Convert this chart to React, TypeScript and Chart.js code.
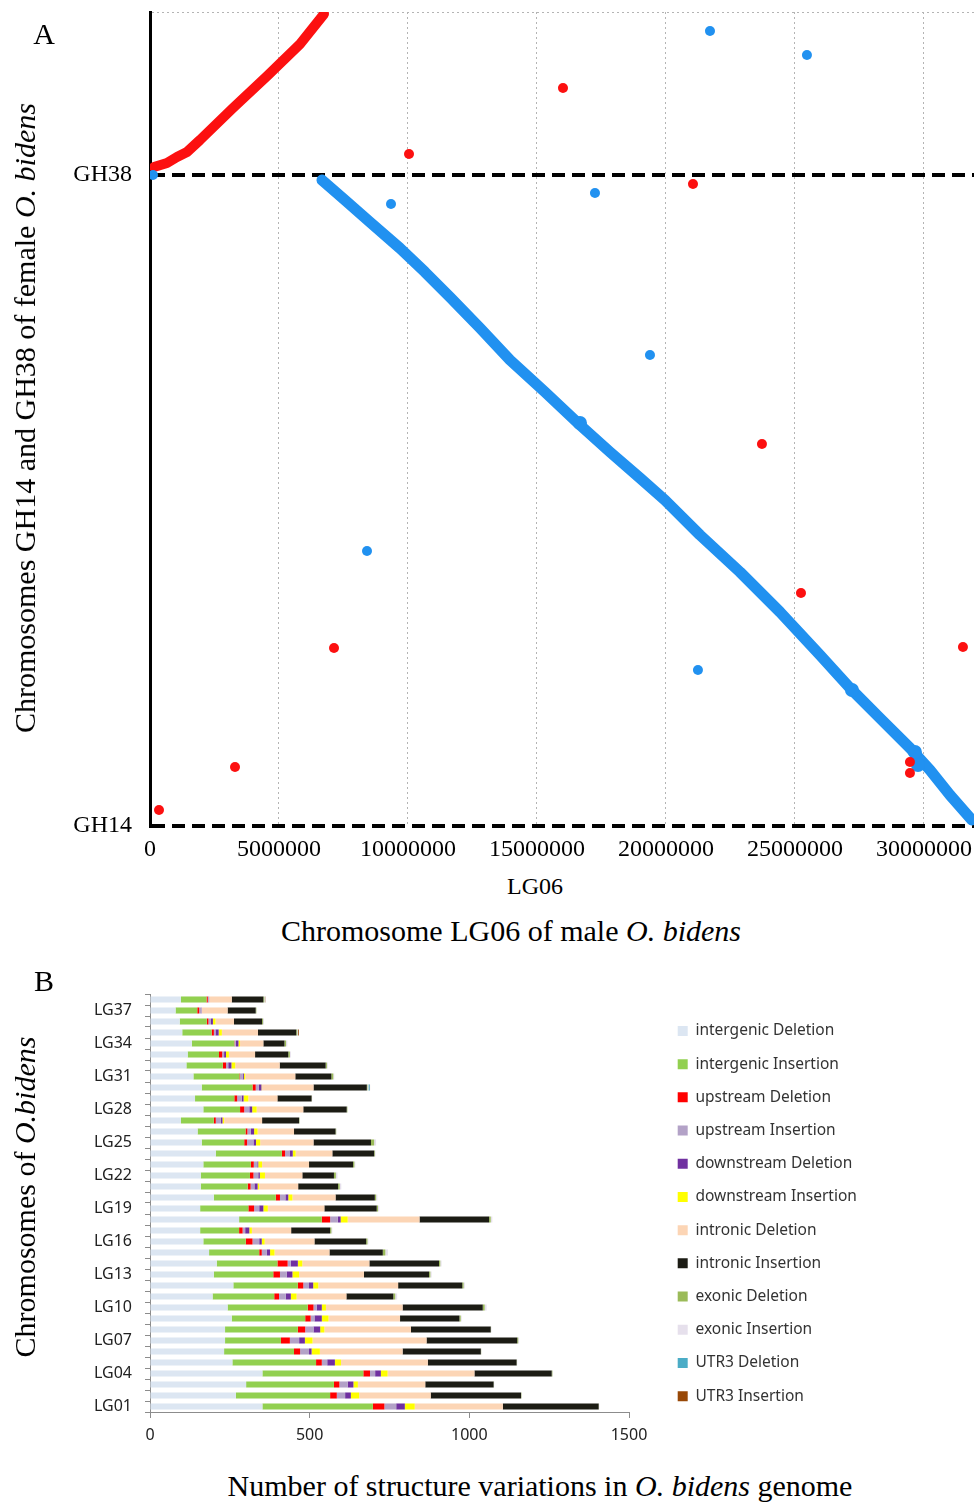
import React, { useEffect, useRef } from 'react';
import { Chart, registerables } from 'chart.js';

Chart.register(...registerables);

const SERIF = '"Liberation Serif", "Times New Roman", serif';
const SANS = '"Noto Sans", "Open Sans", sans-serif';

// ---------------- Panel A data (positions in bp) ----------------
const xTicksA = [0, 5000000, 10000000, 15000000, 20000000, 25000000, 30000000];
const X_MAX_A = 31940000;
const Y_MAX_A = 32000000;
const yTickValuesA = [0, 25600000, Y_MAX_A];
const yTickLabelsA = ['GH14', 'GH38', ''];

// GH38 syntenic block (red)
const redLineX = [155000, 659000, 1047000, 1434000, 1938000, 3217000, 4535000, 5814000, 6744000];
const redLineY = [25906000, 26065000, 26301000, 26497000, 26967000, 28225000, 29483000, 30740000, 31920000];

// GH14 syntenic block (blue, inverted)
const blueLineX = [6667000, 7558000, 8527000, 9690000, 10659000, 11628000, 12791000, 13954000, 15310000, 16667000, 17830000, 18992000, 19961000, 21318000, 22868000, 24419000, 25969000, 27132000, 28295000, 29458000, 30233000, 31008000, 31861000];
const blueLineY = [25394000, 24608000, 23743000, 22713000, 21778000, 20795000, 19579000, 18318000, 17061000, 15764000, 14703000, 13681000, 12815000, 11440000, 9985000, 8413000, 6722000, 5425000, 4245000, 3066000, 2201000, 1219000, 236000];

// dense clusters along the blue block
const blueClusterX = [16667000, 27210000, 29650000, 29770000];
const blueClusterY = [15843000, 5346000, 2909000, 2398000];

// scattered blue hits
const blueDotX = [21706000, 25465000, 9341000, 17248000, 19380000, 8411000, 21240000, 116000];
const blueDotY = [31251000, 30308000, 24451000, 24883000, 18515000, 10810000, 6132000, 25590000];

// scattered red hits
const redDotX = [16008000, 10039000, 21047000, 23721000, 25233000, 7132000, 31512000, 3295000, 349000, 29458000, 29458000];
const redDotY = [29011000, 26416000, 25237000, 15016000, 9159000, 6997000, 7036000, 2319000, 629000, 2516000, 2083000];

// ---------------- Panel B data ----------------
const chromosomes = ['LG01', 'LG02', 'LG03', 'LG04', 'LG05', 'LG06', 'LG07', 'LG08', 'LG09', 'LG10', 'LG11', 'LG12', 'LG13', 'LG14', 'LG15', 'LG16', 'LG17', 'LG18', 'LG19', 'LG20', 'LG21', 'LG22', 'LG23', 'LG24', 'LG25', 'LG26', 'LG27', 'LG28', 'LG29', 'LG30', 'LG31', 'LG32', 'LG33', 'LG34', 'LG35', 'LG36', 'LG37', 'LG38'];
const xTicksB = [0, 500, 1000, 1500];

const intergenicDeletion = [352, 269, 301, 352, 258, 232, 235, 235, 256, 243, 196, 261, 200, 209, 185, 167, 157, 279, 157, 200, 159, 159, 167, 206, 162, 149, 97, 167, 141, 162, 136, 114, 118, 131, 101, 93, 80, 97];
const intergenicInsertion = [346, 295, 275, 316, 262, 219, 175, 228, 230, 251, 193, 202, 186, 190, 157, 133, 122, 259, 151, 194, 147, 154, 149, 207, 133, 150, 103, 115, 123, 159, 144, 114, 98, 133, 92, 85, 68, 80];
const upstreamDeletion = [36, 21, 17, 21, 18, 19, 28, 23, 17, 18, 15, 17, 21, 32, 8, 21, 11, 26, 18, 13, 9, 11, 9, 10, 9, 6, 6, 13, 9, 10, 2, 10, 10, 1, 7, 5, 6, 4];
const upstreamInsertion = [37, 26, 26, 16, 17, 28, 29, 26, 12, 10, 21, 18, 21, 10, 16, 21, 8, 24, 16, 17, 12, 15, 11, 14, 20, 11, 16, 16, 14, 10, 8, 7, 6, 4, 5, 8, 7, 3];
const downstreamDeletion = [27, 18, 18, 18, 24, 8, 18, 21, 23, 16, 16, 13, 18, 22, 10, 8, 13, 9, 13, 9, 10, 5, 3, 10, 8, 10, 5, 9, 6, 8, 4, 10, 6, 8, 10, 6, 1, 1];
const downstreamInsertion = [31, 26, 14, 21, 19, 26, 24, 13, 21, 13, 18, 16, 21, 14, 14, 9, 8, 22, 14, 13, 5, 16, 12, 9, 13, 11, 5, 14, 15, 1, 4, 12, 9, 5, 10, 8, 0, 0];
const intronicDeletion = [276, 224, 211, 272, 272, 259, 357, 271, 224, 240, 156, 250, 203, 210, 172, 156, 123, 225, 177, 135, 122, 117, 147, 115, 167, 114, 119, 146, 91, 162, 157, 139, 82, 73, 113, 58, 81, 71];
const intronicInsertion = [300, 283, 214, 242, 278, 245, 284, 250, 186, 251, 147, 201, 204, 218, 167, 162, 122, 218, 164, 123, 125, 99, 138, 131, 180, 130, 116, 136, 107, 167, 113, 144, 104, 66, 120, 88, 88, 99];
const exonicDeletion = [1, 1, 1, 2, 1, 1, 3, 1, 4, 6, 6, 4, 4, 4, 8, 4, 4, 5, 4, 4, 5, 6, 4, 2, 10, 2, 1, 2, 1, 2, 6, 4, 5, 5, 3, 3, 2, 3];
const exonicInsertion = [1, 1, 1, 2, 1, 1, 3, 1, 3, 6, 6, 4, 4, 4, 8, 3, 3, 5, 4, 4, 5, 5, 3, 2, 6, 1, 0, 1, 1, 3, 3, 3, 3, 4, 2, 3, 1, 3];
const utr3Deletion = [0, 0, 0, 0, 0, 0, 0, 0, 0, 0, 0, 0, 0, 0, 0, 0, 0, 0, 0, 0, 0, 0, 0, 0, 0, 0, 0, 0, 0, 4, 0, 0, 0, 0, 0, 0, 0, 0];
const utr3Insertion = [0, 0, 0, 0, 0, 0, 0, 0, 0, 0, 0, 0, 0, 0, 0, 0, 0, 0, 0, 0, 0, 0, 0, 0, 0, 0, 0, 0, 0, 1, 0, 0, 0, 0, 3, 0, 0, 1];

const seriesNames = ['intergenic Deletion', 'intergenic Insertion', 'upstream Deletion', 'upstream Insertion', 'downstream Deletion', 'downstream Insertion', 'intronic Deletion', 'intronic Insertion', 'exonic Deletion', 'exonic Insertion', 'UTR3 Deletion', 'UTR3 Insertion'];
const seriesData = [intergenicDeletion, intergenicInsertion, upstreamDeletion, upstreamInsertion, downstreamDeletion, downstreamInsertion, intronicDeletion, intronicInsertion, exonicDeletion, exonicInsertion, utr3Deletion, utr3Insertion];
const seriesColors = ['#dce6f2', '#92d050', '#ff0000', '#b3a2c7', '#7030a0', '#ffff00', '#fcd5b5', '#1c1c14', '#9bbb59', '#e6e0ec', '#4bacc6', '#984807'];

const BLUE = '#2191f0';
const RED = '#fc1010';
const LEGEND_FONT = 15.5;
const LEGEND_PAD = 17.7;

const pts = (xs: number[], ys: number[]) => xs.map((x, i) => ({ x, y: ys[i] }));

function legendRightPadding(): number {
  const c = document.createElement('canvas').getContext('2d');
  if (!c) return 110;
  c.font = `${LEGEND_FONT}px ${SANS}`;
  const w = Math.max(...seriesNames.map((n) => c.measureText(n).width));
  const legendW = LEGEND_PAD + 10 + LEGEND_FONT / 2 + w + 10;
  return Math.max(0, 974 - 660 - legendW);
}

const noPadding = (s: any) => {
  s.paddingLeft = 0;
  s.paddingRight = 0;
  s.paddingTop = 0;
  s.paddingBottom = 0;
};

export default function App() {
  const refA = useRef<HTMLCanvasElement>(null);
  const refB = useRef<HTMLCanvasElement>(null);

  useEffect(() => {
    const chartA = new Chart(refA.current as HTMLCanvasElement, {
      type: 'scatter',
      data: {
        datasets: [
          { label: 'red outliers', data: pts(redDotX, redDotY), backgroundColor: RED, borderWidth: 0, pointRadius: 5 },
          { label: 'blue outliers', data: pts(blueDotX, blueDotY), backgroundColor: BLUE, borderWidth: 0, pointRadius: 5 },
          { label: 'blue clusters', data: pts(blueClusterX, blueClusterY), backgroundColor: BLUE, borderWidth: 0, pointRadius: 7 },
          { label: 'GH38', data: pts(redLineX, redLineY), showLine: true, borderColor: RED, borderWidth: 10, pointRadius: 0, borderCapStyle: 'round', borderJoinStyle: 'round' } as any,
          { label: 'GH14', data: pts(blueLineX, blueLineY), showLine: true, borderColor: BLUE, borderWidth: 11, pointRadius: 0, borderCapStyle: 'round', borderJoinStyle: 'round' } as any,
        ],
      },
      options: {
        responsive: false,
        animation: false,
        layout: { autoPadding: false, padding: { top: 12, left: 0, right: 0, bottom: 0 } },
        plugins: { legend: { display: false }, tooltip: { enabled: false } },
        scales: {
          x: {
            type: 'linear',
            min: 0,
            max: X_MAX_A,
            afterBuildTicks: (s: any) => { s.ticks = xTicksA.map((v) => ({ value: v })); },
            afterFit: (s: any) => { s.height = 44; noPadding(s); },
            grid: {
              color: (c: any) => (c.tick && c.tick.value === 0 ? 'rgba(0,0,0,0)' : '#b4b4b4'),
              lineWidth: 1,
              drawTicks: false,
            },
            border: { display: false, dash: [2, 3] },
            ticks: { font: { family: SERIF, size: 24 }, color: '#000', padding: 9, maxRotation: 0, callback: (v: any) => String(v) },
          },
          y: {
            type: 'linear',
            min: 0,
            max: Y_MAX_A,
            afterBuildTicks: (s: any) => { s.ticks = yTickValuesA.map((v) => ({ value: v })); },
            afterFit: (s: any) => { s.width = 150; noPadding(s); },
            grid: {
              color: (c: any) => (c.tick && c.tick.value === Y_MAX_A ? '#b4b4b4' : '#000'),
              lineWidth: (c: any) => (c.tick && c.tick.value === Y_MAX_A ? 1 : 4),
              drawTicks: false,
            },
            border: {
              display: true,
              color: '#000',
              width: 3,
              dash: (c: any) => (c.tick && c.tick.value === Y_MAX_A ? [2, 3] : [13, 7]),
            } as any,
            ticks: {
              font: { family: SERIF, size: 24 },
              color: '#000',
              padding: 18,
              callback: (v: any) => yTickLabelsA[yTickValuesA.indexOf(Number(v))] ?? '',
            },
          },
        },
      } as any,
    });

    const padR = legendRightPadding();
    const chartB = new Chart(refB.current as HTMLCanvasElement, {
      type: 'bar',
      data: {
        labels: chromosomes,
        datasets: seriesNames.map((name, i) => ({
          label: name,
          data: seriesData[i],
          backgroundColor: seriesColors[i],
          borderWidth: 0,
          barPercentage: 0.55,
          categoryPercentage: 1,
        })),
      },
      options: {
        indexAxis: 'y',
        responsive: false,
        animation: false,
        layout: { autoPadding: false, padding: { top: 34, right: padR, bottom: 0, left: 0 } },
        plugins: {
          tooltip: { enabled: false },
          legend: {
            position: 'right',
            align: 'start',
            maxWidth: 600,
            title: { display: true, text: '', font: { size: 10, lineHeight: 1 }, padding: { top: 0, bottom: 1.5 } },
            labels: { boxWidth: 10, boxHeight: 10, padding: LEGEND_PAD, color: '#333', font: { family: SANS, size: LEGEND_FONT } },
          },
        },
        scales: {
          x: {
            type: 'linear',
            stacked: true,
            min: 0,
            max: 1500,
            afterBuildTicks: (s: any) => { s.ticks = xTicksB.map((v) => ({ value: v })); },
            afterFit: (s: any) => { s.height = 48; noPadding(s); },
            grid: { drawOnChartArea: false, tickLength: 6, color: '#8c8c8c' },
            border: { color: '#8c8c8c', width: 1 },
            ticks: { font: { family: SANS, size: 16 }, color: '#222', padding: 8, maxRotation: 0, callback: (v: any) => String(v) },
          },
          y: {
            type: 'category',
            stacked: true,
            reverse: true,
            afterFit: (s: any) => { s.width = 150; noPadding(s); },
            grid: { drawOnChartArea: false, tickLength: 5, color: '#8c8c8c', offset: true },
            border: { color: '#8c8c8c', width: 1 },
            ticks: {
              autoSkip: false,
              font: { family: SANS, size: 16 },
              color: '#222',
              padding: 13,
              callback: (_v: any, i: number) => (i % 3 === 0 ? chromosomes[i] : ''),
            },
          },
          spacer: {
            type: 'linear',
            position: 'right',
            display: true,
            grid: { display: false },
            border: { display: false },
            ticks: { display: false },
            afterFit: (s: any) => { s.width = 31; noPadding(s); },
          },
        },
      } as any,
    });

    return () => {
      chartA.destroy();
      chartB.destroy();
    };
  }, []);

  const serif: React.CSSProperties = {
    position: 'absolute',
    fontFamily: SERIF,
    color: '#000',
    whiteSpace: 'nowrap',
    lineHeight: 1,
    transform: 'translate(-50%, -50%)',
  };
  const vertical: React.CSSProperties = { ...serif, transform: 'translate(-50%, -50%) rotate(-90deg)' };

  return (
    <div style={{ position: 'absolute', left: 0, top: 0, width: 974, height: 1502, background: '#fff', overflow: 'hidden' }}>
      <canvas ref={refA} width={974} height={870} style={{ position: 'absolute', left: 0, top: 0, width: 974, height: 870 }} />
      <canvas ref={refB} width={974} height={500} style={{ position: 'absolute', left: 0, top: 960, width: 974, height: 500 }} />

      <div style={{ ...serif, left: 44, top: 34, fontSize: 30 }}>A</div>
      <div style={{ ...vertical, left: 25, top: 418, fontSize: 30 }}>
        Chromosomes GH14 and GH38 of female <i>O. bidens</i>
      </div>
      <div style={{ ...serif, left: 535, top: 886, fontSize: 24 }}>LG06</div>
      <div style={{ ...serif, left: 511, top: 931, fontSize: 30 }}>
        Chromosome LG06 of male <i>O. bidens</i>
      </div>

      <div style={{ ...serif, left: 44, top: 981, fontSize: 30 }}>B</div>
      <div style={{ ...vertical, left: 25, top: 1197, fontSize: 30 }}>
        Chromosomes of <i>O.bidens</i>
      </div>
      <div style={{ ...serif, left: 540, top: 1486, fontSize: 30 }}>
        Number of structure variations in <i>O. bidens</i> genome
      </div>
    </div>
  );
}
